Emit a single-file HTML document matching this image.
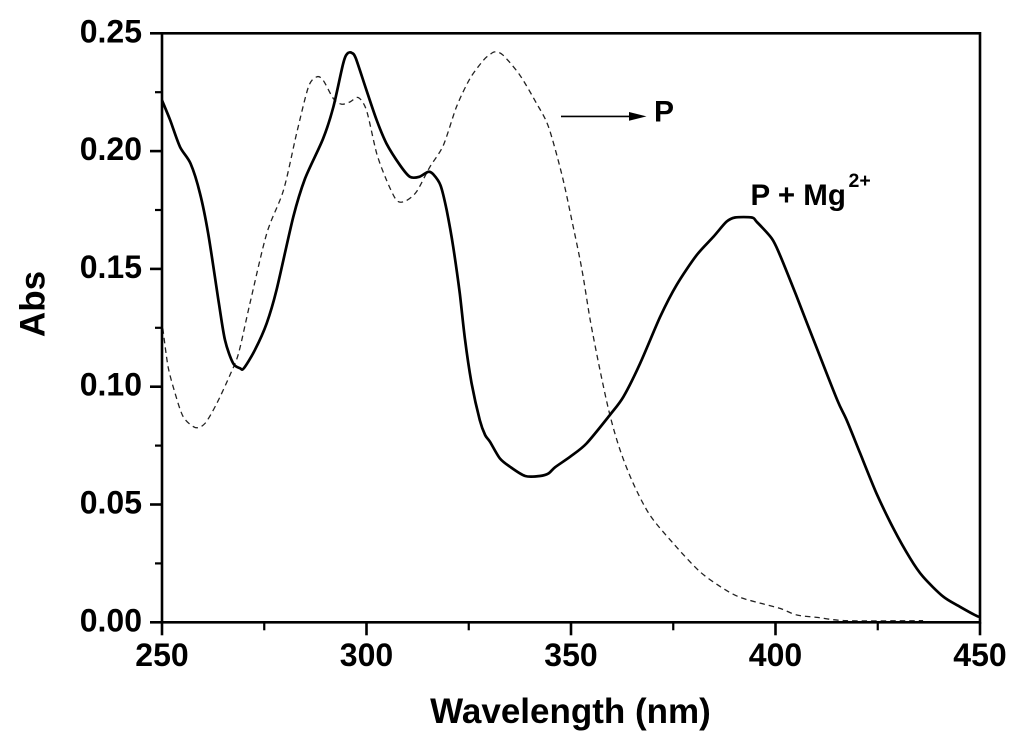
<!DOCTYPE html>
<html lang="en">
<head>
<meta charset="utf-8">
<title>Absorbance spectra of P and P + Mg2+</title>
<style>
html,body{margin:0;padding:0;background:#fff;}
svg{display:block;}
text{font-family:"Liberation Sans",sans-serif;font-weight:bold;fill:#000;}
</style>
</head>
<body>
<svg id="chart" width="1024" height="749" viewBox="0 0 1024 749" xmlns="http://www.w3.org/2000/svg">
<rect x="0" y="0" width="1024" height="749" fill="#fff"/>
<g id="marks"></g>
<g id="axes"></g>
<text x="570.5" y="723" font-size="35" text-anchor="middle">Wavelength (nm)</text>
<text transform="translate(44.5,304) rotate(-90)" font-size="35" text-anchor="middle">Abs</text>
<line x1="561" y1="116.4" x2="634" y2="116.4" stroke="#000" stroke-width="1.6"/>
<polygon points="629,112 646.5,116.4 629,120.8" fill="#000"/>
<text x="654" y="121.5" font-size="30">P</text>
<text x="750.5" y="205" font-size="29.5">P + Mg</text>
<text x="848.5" y="187" font-size="19.5">2+</text>
</svg>
<script>
const xTicksMajor = [250, 300, 350, 400, 450];
const xTicksMinor = [275, 325, 375, 425];
const yTicksMajor = [0, 0.05, 0.10, 0.15, 0.20, 0.25];
const yTicksMinor = [0.025, 0.075, 0.125, 0.175, 0.225];
const yTickLabels = ["0.00", "0.05", "0.10", "0.15", "0.20", "0.25"];
const xTickLabels = ["250", "300", "350", "400", "450"];

const solidWavelengths = [250,252,254.4,257,259.3,261.3,263.8,265.4,267.4,269.1,270,272.7,275.6,278,282.1,285,289.4,291.9,294.3,295.3,296.4,297.4,300,302.5,304.9,308.2,310.6,312.9,315.1,316.3,318.1,319.6,321.2,322.8,324.1,325.7,327.7,329,330.2,332.6,335.1,338.8,342.4,344.5,346.1,349.8,353.8,359.5,362.8,366.9,371.8,375.8,380.7,384.8,388,390.1,394.2,395.4,399.1,401.1,405,410,415.1,417.4,420.7,424.7,428.8,432.9,436.1,441,445.1,449.2,450];
const solidAbs = [.2216,.2131,.2018,.1947,.182,.165,.1367,.1198,.1099,.1078,.1078,.1155,.1269,.141,.1721,.1884,.2053,.2188,.2372,.2414,.2417,.2393,.2258,.2131,.2032,.194,.1891,.1891,.1912,.1902,.1855,.1749,.1594,.1396,.1198,.1014,.0858,.0795,.0766,.0696,.066,.0621,.0621,.0632,.0658,.0703,.0759,.088,.0957,.1099,.1297,.1431,.1558,.1636,.17,.1718,.1718,.17,.1629,.1558,.139,.1168,.0943,.0858,.0717,.0547,.0399,.0272,.0193,.0109,.0066,.0027,.0024];

const dashedWavelengths = [250.2,251.5,253.2,255.2,258.1,260.5,263.4,266.6,268.7,271.5,275.6,279.7,282.9,285.8,287.8,289.4,291.9,293.9,296,298,300,302.5,304.9,307.3,309.4,312.2,315.5,318.8,322,325.3,328.6,330.2,331.4,333.4,337.5,341.6,344.5,347.7,350.2,352.7,354.7,357.1,359.5,362,365.2,369.3,375,381.5,387.2,391.3,397,401.1,405.2,410.1,417.4,436.1];
const dashedAbs = [.1247,.1084,.0972,.0872,.0827,.0844,.0929,.1049,.1141,.1353,.165,.1834,.2075,.2272,.2315,.2301,.2223,.2199,.2209,.2227,.2173,.199,.1877,.1792,.1787,.1827,.1933,.2025,.2188,.2308,.2386,.241,.2421,.2407,.2322,.2202,.2103,.1905,.1707,.1495,.1283,.107,.088,.0731,.059,.0455,.0335,.0215,.0144,.0106,.0078,.0059,.0031,.0021,.0007,.0007];

const NS = 'http://www.w3.org/2000/svg';
const plot = { left: 162, right: 980, top: 33.3, bottom: 622.3 };
const xMin = 250, xMax = 450, yMin = 0, yMax = 0.25;
function xScale(v) { return plot.left + (v - xMin) / (xMax - xMin) * (plot.right - plot.left); }
function yScale(v) { return plot.bottom - (v - yMin) / (yMax - yMin) * (plot.bottom - plot.top); }

const axes = document.getElementById('axes');
const marks = document.getElementById('marks');

function make(parent, tag, attrs) {
  const el = document.createElementNS(NS, tag);
  for (const k in attrs) el.setAttribute(k, attrs[k]);
  parent.appendChild(el);
  return el;
}

function smoothPath(xs, ys) {
  const p = xs.map((w, i) => [xScale(w), yScale(ys[i])]);
  let d = 'M' + p[0][0].toFixed(1) + ' ' + p[0][1].toFixed(1);
  const k = 0.14;
  for (let i = 0; i < p.length - 1; i++) {
    const a = p[Math.max(i - 1, 0)], b = p[i], c = p[i + 1], e = p[Math.min(i + 2, p.length - 1)];
    const c1x = b[0] + (c[0] - a[0]) * k, c1y = b[1] + (c[1] - a[1]) * k;
    const c2x = c[0] - (e[0] - b[0]) * k, c2y = c[1] - (e[1] - b[1]) * k;
    d += 'C' + c1x.toFixed(1) + ' ' + c1y.toFixed(1) + ' ' + c2x.toFixed(1) + ' ' + c2y.toFixed(1) + ' ' + c[0].toFixed(1) + ' ' + c[1].toFixed(1);
  }
  return d;
}

const dashedLine = make(marks, 'path', {
  d: smoothPath(dashedWavelengths, dashedAbs),
  fill: 'none', stroke: '#222', 'stroke-width': 1.3, 'stroke-dasharray': '5.5 4', 'stroke-linejoin': 'round'
});



const solidLine = make(marks, 'path', {
  d: smoothPath(solidWavelengths, solidAbs),
  fill: 'none', stroke: '#000', 'stroke-width': 2.7, 'stroke-linejoin': 'round'
});



const frame = make(axes, 'rect', {
  x: plot.left, y: plot.top, width: plot.right - plot.left, height: plot.bottom - plot.top,
  fill: 'none', stroke: '#000', 'stroke-width': 2.6
});



xTicksMajor.forEach((v, i) => {
  const t = make(axes, 'line', { x1: xScale(v), x2: xScale(v), y1: plot.bottom, y2: plot.bottom + 13, stroke: '#000', 'stroke-width': 2.6 });
  
  
  const l = make(axes, 'text', { x: xScale(v), y: 666, 'font-size': 32, 'text-anchor': 'middle' });
  
  
  l.textContent = xTickLabels[i];
});
xTicksMinor.forEach(v => {
  const t = make(axes, 'line', { x1: xScale(v), x2: xScale(v), y1: plot.bottom, y2: plot.bottom + 8, stroke: '#000', 'stroke-width': 2.2 });
  
  
});
yTicksMajor.forEach((v, i) => {
  const t = make(axes, 'line', { x1: plot.left - 12, x2: plot.left, y1: yScale(v), y2: yScale(v), stroke: '#000', 'stroke-width': 2.6 });
  
  
  const l = make(axes, 'text', { x: 142, y: yScale(v) + 9, 'font-size': 32, 'text-anchor': 'end' });
  
  
  l.textContent = yTickLabels[i];
});
yTicksMinor.forEach(v => {
  const t = make(axes, 'line', { x1: plot.left - 7, x2: plot.left, y1: yScale(v), y2: yScale(v), stroke: '#000', 'stroke-width': 2.2 });
  
  
});
</script>
</body>
</html>
